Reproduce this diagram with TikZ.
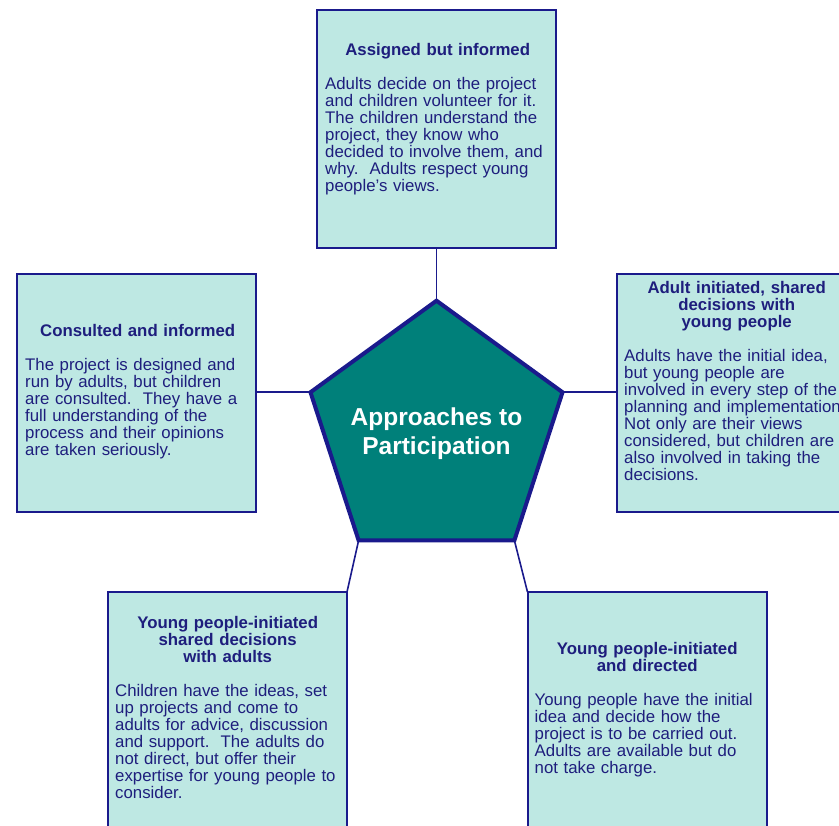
\documentclass[tikz,border=0pt]{standalone}
\usepackage{fontspec}
\setmainfont{Liberation Sans}
\usetikzlibrary{positioning,shapes.geometric}

\definecolor{navy}{RGB}{26,26,140}
\definecolor{inktext}{RGB}{30,30,125}
\definecolor{boxfill}{RGB}{190,232,227}
\definecolor{teal}{RGB}{0,128,122}

\begin{document}
\begin{tikzpicture}
    [x=1pt,y=-1pt,%%%%%%%%%%%%%%%%%%%%%%%%%%%%%%
    box/.style={rectangle,draw=navy,line width=2pt,fill=boxfill,minimum width=239pt,minimum height=238pt,outer sep=0pt},
    boxtext/.style={text width=225pt,inner sep=0pt,align=left,text=inktext,font=\fontsize{16.8}{17}\selectfont},
    penta/.style={regular polygon,regular polygon sides=5,minimum size=265pt,inner sep=0pt,outer sep=0pt,draw=navy,line width=4pt,fill=teal},
    link/.style={draw=navy,line width=1.6pt},
    ]%%%%%%%%%%%%%%%%%%%%%%%%%%%%%%

    \clip (0,0) rectangle (839,826);

    % centre
    \node[penta] at (436.5,433.2)(approach){};
    \node[text=white,align=center,inner sep=0pt,font=\fontsize{24.5}{29}\selectfont\bfseries] at (approach.center)(approach_text){Approaches to\\Participation};

    % top
    \node[box] at (436.5,129.5)(assigned){};
    \node[boxtext,below right=33pt and 8pt of assigned.north west](assigned_text){%
        {\centering\bfseries Assigned but informed\par}\vspace{17pt}
        Adults decide on the project\\and children volunteer for it.\\The children understand the\\project, they know who\\decided to involve them, and\\why.\ \ Adults respect young\\people's views.};
    \draw[link](approach.90) -- (assigned.south);

    % left
    \node[box] at (136.5,393.3)(consulted){};
    \node[boxtext,below right=50pt and 8pt of consulted.north west](consulted_text){%
        {\centering\bfseries Consulted and informed\par}\vspace{17pt}
        The project is designed and\\run by adults, but children\\are consulted.\ \ They have a\\full understanding of the\\process and their opinions\\are taken seriously.};
    \draw[link](approach.162) -- (approach.162 -| consulted.east);

    % right
    \node[box] at (736.5,393.3)(adult){};
    \node[boxtext,below right=7pt and 7pt of adult.north west](adult_text){%
        {\centering\bfseries Adult initiated, shared\\decisions with\\young people\par}\vspace{17pt}
        Adults have the initial idea,\\but young people are\\involved in every step of the\\\mbox{planning and implementation.}\\Not only are their views\\considered, but children are\\also involved in taking the\\decisions.};
    \draw[link](approach.18) -- (approach.18 -| adult.west);

    % bottom left
    \node[box] at (227.5,711)(shared){};
    \node[boxtext,below right=24pt and 7pt of shared.north west](shared_text){%
        {\centering\bfseries Young people-initiated\\shared decisions\\with adults\par}\vspace{17pt}
        Children have the ideas, set\\up projects and come to\\adults for advice, discussion\\and support.\ \ The adults do\\not direct, but offer their\\expertise for young people to\\consider.};
    \draw[link](approach.234) -- (shared.north east);

    % bottom right
    \node[box] at (647,711)(directed){};
    \node[boxtext,below right=50pt and 7pt of directed.north west](directed_text){%
        {\centering\bfseries Young people-initiated\\and directed\par}\vspace{17pt}
        Young people have the initial\\idea and decide how the\\project is to be carried out.\\Adults are available but do\\not take charge.};
    \draw[link](approach.306) -- (directed.north west);
\end{tikzpicture}
\end{document}
